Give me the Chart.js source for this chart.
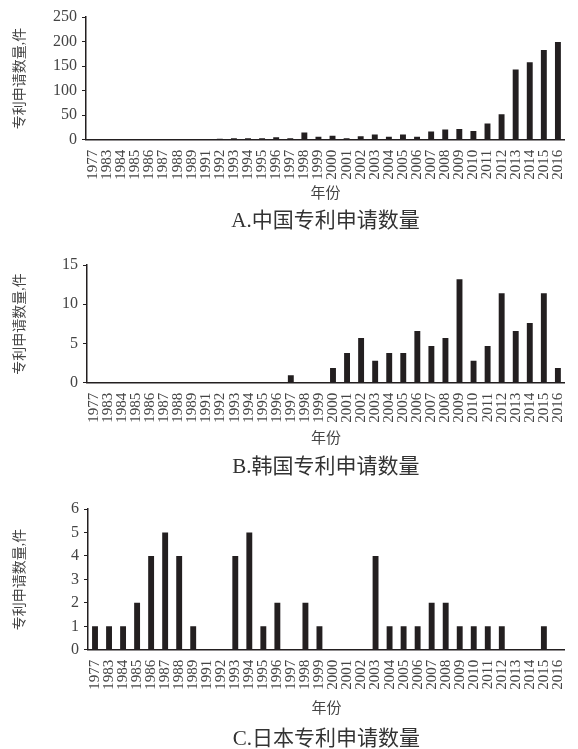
<!DOCTYPE html>
<html>
<head>
<meta charset="utf-8">
<script src="https://cdn.jsdelivr.net/npm/chart.js@4.4.1/dist/chart.umd.min.js"></script>
<style>
  html, body { margin: 0; padding: 0; background: #fff; overflow: hidden; }
  .wrap { position: absolute; left: 0; width: 578px; }
  canvas { display: block; }
</style>
</head>
<body>
<div class="wrap" style="top:0px"><canvas id="chinaChart" width="578" height="234"></canvas></div>
<div class="wrap" style="top:234px"><canvas id="koreaChart" width="578" height="256"></canvas></div>
<div class="wrap" style="top:490px"><canvas id="japanChart" width="578" height="270"></canvas></div>
<script>
// years on the x axis (1978-1982 and 1990 are missing in the source)
var years = ['1977','1983','1984','1985','1986','1987','1988','1989','1991','1992',
  '1993','1994','1995','1996','1997','1998','1999','2000','2001','2002','2003','2004',
  '2005','2006','2007','2008','2009','2010','2011','2012','2013','2014','2015','2016'];

// A. China
var chinaCounts = [1,1,1,0,0,1,0,0,0,2,
  3,3,3,5,3,15,6,8,3,7,11,6,
  11,6,17,21,22,18,33,52,143,158,183,199];
var chinaTicks = [0, 50, 100, 150, 200, 250];

// B. Korea
var koreaCounts = [0,0,0,0,0,0,0,0,0,0,
  0,0,0,0,0.95,0,0,1.9,3.8,5.7,2.8,3.8,
  3.8,6.6,4.7,5.7,13.2,2.8,4.7,11.4,6.6,7.6,11.4,1.9];
var koreaTicks = [0, 5, 10, 15];

// C. Japan
var japanCounts = [1,1,1,2,4,5,4,1,0,0,
  4,5,1,2,0,2,1,0,0,0,4,1,
  1,1,2,2,1,1,1,1,0,0,1,0];
var japanTicks = [0, 1, 2, 3, 4, 5, 6];

var yTitle = '专利申请数量,件';
var xTitle = '年份';

var serif = "'Liberation Serif', 'Times New Roman', 'Noto Sans CJK SC', serif";
var ink = '#231f20';

var makeChart = function(id, values, ticks, caption, o) {
  return new Chart(document.getElementById(id).getContext('2d'), {
    type: 'bar',
    data: {
      labels: years,
      datasets: [{
        data: values,
        backgroundColor: ink,
        barPercentage: 0.42,
        categoryPercentage: 1.0
      }]
    },
    options: {
      responsive: false,
      animation: false,
      layout: { padding: { top: o.top, left: 0, right: o.right, bottom: o.bottom } },
      plugins: {
        legend: { display: false },
        tooltip: { enabled: false },
        title: {
          display: true,
          text: caption,
          position: 'bottom',
          fullSize: false,
          color: '#333',
          font: { family: serif, size: 21, weight: 'normal' },
          padding: { top: o.capTop, bottom: 0 }
        }
      },
      scales: {
        x: {
          grid: { display: false },
          border: { display: true, color: ink, width: 1.5 },
          ticks: {
            autoSkip: false, maxRotation: 90, minRotation: 90,
            padding: 2, color: '#444',
            font: { family: serif, size: 15 }
          },
          title: {
            display: true, text: xTitle, color: '#444',
            font: { family: serif, size: 15 }, padding: 0
          },
          afterFit: function(scale) { scale.height = o.xHeight; }
        },
        y: {
          min: 0,
          max: ticks[ticks.length - 1],
          afterBuildTicks: function(scale) {
            scale.ticks = ticks.map(function(v) { return { value: v }; });
          },
          grid: { display: true, drawOnChartArea: false, drawTicks: true, tickLength: 4, color: ink },
          border: { display: true, color: ink, width: 1.5 },
          ticks: { padding: 5, color: '#444', font: { family: serif, size: 16 } },
          title: {
            display: true, text: yTitle, color: '#444',
            font: { family: serif, size: 14 }, padding: { top: 12, bottom: 0 }
          },
          afterFit: function(scale) { scale.width = o.yWidth; }
        }
      }
    }
  });
};

makeChart('chinaChart', chinaCounts, chinaTicks, 'A.中国专利申请数量',
  { top: 17, right: 5, bottom: 0, xHeight: 63, capTop: 6, yWidth: 86 });
makeChart('koreaChart', koreaCounts, koreaTicks, 'B.韩国专利申请数量',
  { top: 31, right: 7, bottom: 10, xHeight: 65, capTop: 7, yWidth: 87 });
makeChart('japanChart', japanCounts, japanTicks, 'C.日本专利申请数量',
  { top: 19, right: 6, bottom: 8, xHeight: 68, capTop: 9, yWidth: 88 });
</script>
</body>
</html>
